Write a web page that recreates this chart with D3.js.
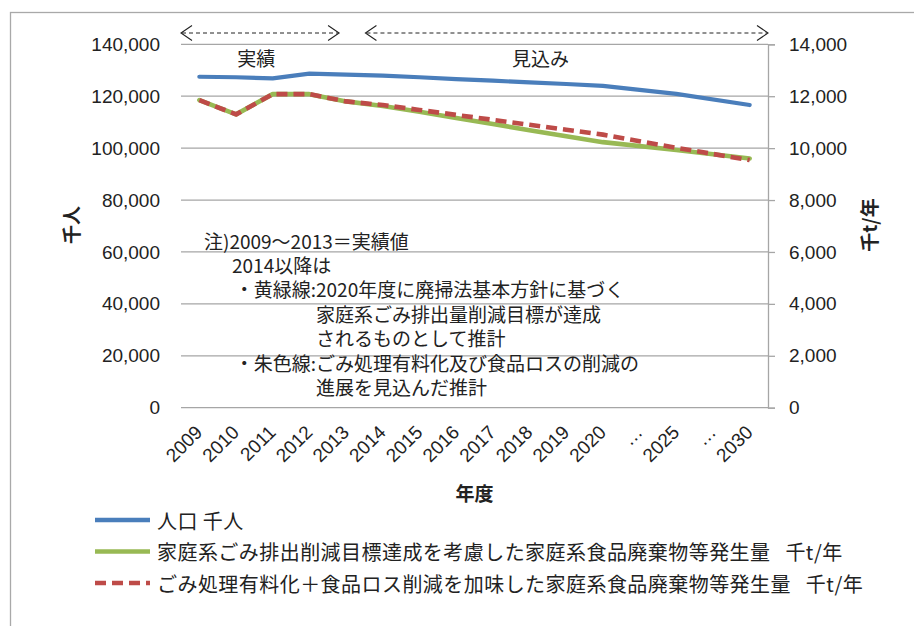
<!DOCTYPE html>
<html><head><meta charset="utf-8">
<script src="https://cdn.jsdelivr.net/npm/d3@7/dist/d3.min.js"></script>
<style>
html,body{margin:0;padding:0;background:#fff;}
svg{display:block;font-family:"Noto Sans CJK JP","Noto Sans",sans-serif;}
</style></head>
<body><svg id="chart" width="914" height="626"></svg>
<script>
// ---- data ----
const categories = ["2009","2010","2011","2012","2013","2014","2015","2016","2017","2018","2019","2020","…","2025","…","2030"];
const population = [127500,127300,126900,128700,128300,127900,127300,126600,126000,125300,124700,124000,null,120900,null,116600]; // 千人
const householdTarget = [11850,11300,12080,12080,11800,11620,11400,11160,10930,10690,10460,10230,null,9930,null,9600]; // 千t/年
const householdFeeLoss = [11850,11300,12080,12080,11800,11660,11470,11280,11090,10900,10710,10520,null,10010,null,9540]; // 千t/年
const leftTicks = [0,20000,40000,60000,80000,100000,120000,140000];
const rightTicks = [0,2000,4000,6000,8000,10000,12000,14000];
const seriesNames = ["人口 千人","家庭系ごみ排出削減目標達成を考慮した家庭系食品廃棄物等発生量\u2002\u2009千t/年","ごみ処理有料化＋食品ロス削減を加味した家庭系食品廃棄物等発生量\u2002\u2009千t/年"];
const noteHead = ["注)2009～2013＝実績値","2014以降は"];
const noteItems = [
  {label:"・黄緑線:", lines:["2020年度に廃掃法基本方針に基づく","家庭系ごみ排出量削減目標が達成","されるものとして推計"]},
  {label:"・朱色線:", lines:["ごみ処理有料化及び食品ロスの削減の","進展を見込んだ推計"]}
];
const periodLabels = ["実績","見込み"];
const xTitle = "年度", yLeftTitle = "千人", yRightTitle = "千t/年";

// ---- layout ----
const svg = d3.select("#chart");
const L = 181, R = 768, T = 44.3, B = 407.7;
const fs = 19;
const x = d3.scalePoint().domain(d3.range(categories.length)).range([L, R]).padding(0.5);
const yL = d3.scaleLinear().domain([0,140000]).range([B, T]);
const yR = d3.scaleLinear().domain([0,14000]).range([B, T]);
const gridColor = "#a6a6a6";
const colors = ["#4a7ebb","#98b954","#be4b48"];

svg.append("rect").attr("width",914).attr("height",626).attr("fill","#fff");
svg.append("rect").attr("x",10.5).attr("y",12.5).attr("width",1000).attr("height",1000)
  .attr("fill","none").attr("stroke","#a9a9a9").attr("stroke-width",1.3);

// gridlines
svg.append("g").selectAll("line").data(leftTicks).join("line")
  .attr("x1",L).attr("x2",R).attr("y1",d=>yL(d)).attr("y2",d=>yL(d))
  .attr("stroke",gridColor).attr("stroke-width",1.3);

// left axis
const gl = svg.append("g").attr("transform",`translate(${L},0)`)
  .call(d3.axisLeft(yL).tickValues(leftTicks).tickSize(0).tickPadding(21).tickFormat(d3.format(",")));
gl.select(".domain").remove();
gl.selectAll("text").attr("font-size",fs).attr("fill","#222").attr("font-family","inherit");

// right axis
const gr = svg.append("g").attr("transform",`translate(${R},0)`)
  .call(d3.axisRight(yR).tickValues(rightTicks).tickSize(7).tickPadding(14).tickFormat(d3.format(",")));
gr.select(".domain").attr("stroke",gridColor).attr("stroke-width",1.3);
gr.selectAll(".tick line").attr("stroke",gridColor).attr("stroke-width",1.3);
gr.selectAll("text").attr("font-size",fs).attr("fill","#222").attr("font-family","inherit");

// x axis labels
const gx = svg.append("g").attr("transform",`translate(0,${B})`)
  .call(d3.axisBottom(x).tickSize(0).tickFormat(i=>categories[i]));
gx.select(".domain").remove();
gx.selectAll("text").attr("font-size",fs).attr("fill","#222").attr("font-family","inherit")
  .attr("text-anchor","end").attr("dy","0.35em")
  .attr("transform","translate(-1,21) rotate(-45)").attr("y",0).attr("x",0);

// axis titles
svg.append("text").attr("x",(L+R)/2).attr("y",492).attr("text-anchor","middle").attr("dominant-baseline","central")
  .attr("font-size",fs).attr("font-weight","bold").attr("fill","#222").text(xTitle);
svg.append("text").attr("transform","translate(70,225) rotate(-90)").attr("text-anchor","middle").attr("dominant-baseline","central")
  .attr("font-size",fs).attr("font-weight","bold").attr("fill","#222").text(yLeftTitle);
svg.append("text").attr("transform","translate(868,225) rotate(-90)").attr("text-anchor","middle").attr("dominant-baseline","central")
  .attr("font-size",fs).attr("font-weight","bold").attr("fill","#222").text(yRightTitle);

// series lines
function seriesPts(vals){ return vals.map((v,i)=>({i,v})).filter(d=>d.v!==null); }
const lineL = d3.line().x(d=>x(d.i)).y(d=>yL(d.v));
const lineR = d3.line().x(d=>x(d.i)).y(d=>yR(d.v));
svg.append("path").attr("d",lineL(seriesPts(population))).attr("fill","none")
  .attr("stroke",colors[0]).attr("stroke-width",4.2).attr("stroke-linejoin","round").attr("stroke-linecap","round");
svg.append("path").attr("d",lineR(seriesPts(householdTarget))).attr("fill","none")
  .attr("stroke",colors[1]).attr("stroke-width",4.6).attr("stroke-linejoin","round").attr("stroke-linecap","round");
svg.append("path").attr("d",lineR(seriesPts(householdFeeLoss))).attr("fill","none")
  .attr("stroke",colors[2]).attr("stroke-width",4.6).attr("stroke-dasharray","11,6").attr("stroke-linejoin","round");

// period arrows
const step = x.step();
const arrows = [
  {x1: L, x2: x(4) - 7, label: periodLabels[0], lx: x(1) + step*0.55},
  {x1: x(5) - step/2 + 1, x2: R, label: periodLabels[1], lx: x(9) + step*0.3}
];
const ay = 33;
const ga = svg.append("g");
arrows.forEach(a=>{
  ga.append("line").attr("x1",a.x1+1).attr("x2",a.x2-1).attr("y1",ay).attr("y2",ay)
    .attr("stroke","#222").attr("stroke-width",1).attr("stroke-dasharray","4,3");
  ga.append("path").attr("d",`M${a.x1+11},${ay-7.5}L${a.x1},${ay}L${a.x1+11},${ay+7.5}`).attr("fill","none").attr("stroke","#222").attr("stroke-width",1.1);
  ga.append("path").attr("d",`M${a.x2-11},${ay-7.5}L${a.x2},${ay}L${a.x2-11},${ay+7.5}`).attr("fill","none").attr("stroke","#222").attr("stroke-width",1.1);
  ga.append("text").attr("x",a.lx).attr("y",57).attr("text-anchor","middle").attr("dominant-baseline","central")
    .attr("font-size",fs).attr("fill","#222").text(a.label);
});

// notes
const gn = svg.append("g").attr("font-size",fs).attr("fill","#222");
const lh = 24.4;
let ny = 240;
gn.append("text").attr("x",204).attr("y",ny).attr("dominant-baseline","central").text(noteHead[0]);
ny += lh;
gn.append("text").attr("x",232).attr("y",ny).attr("dominant-baseline","central").text(noteHead[1]);
noteItems.forEach(item=>{
  item.lines.forEach((ln,k)=>{
    ny += lh;
    if(k===0) gn.append("text").attr("x",316).attr("y",ny).attr("text-anchor","end").attr("dominant-baseline","central").text(item.label);
    gn.append("text").attr("x",316).attr("y",ny).attr("dominant-baseline","central").text(ln);
  });
});

// legend
const lg = svg.append("g");
const legY = [520,551.5,583];
seriesNames.forEach((name,k)=>{
  const ln = lg.append("line").attr("x1",95).attr("x2",150).attr("y1",legY[k]).attr("y2",legY[k])
    .attr("stroke",colors[k]).attr("stroke-width",4.6);
  if(k===2) ln.attr("stroke-dasharray","11,6");
  lg.append("text").attr("x",157).attr("y",legY[k]).attr("dominant-baseline","central")
    .attr("font-size",20).attr("letter-spacing",0.45).attr("fill","#222").text(name);
});
</script></body></html>
